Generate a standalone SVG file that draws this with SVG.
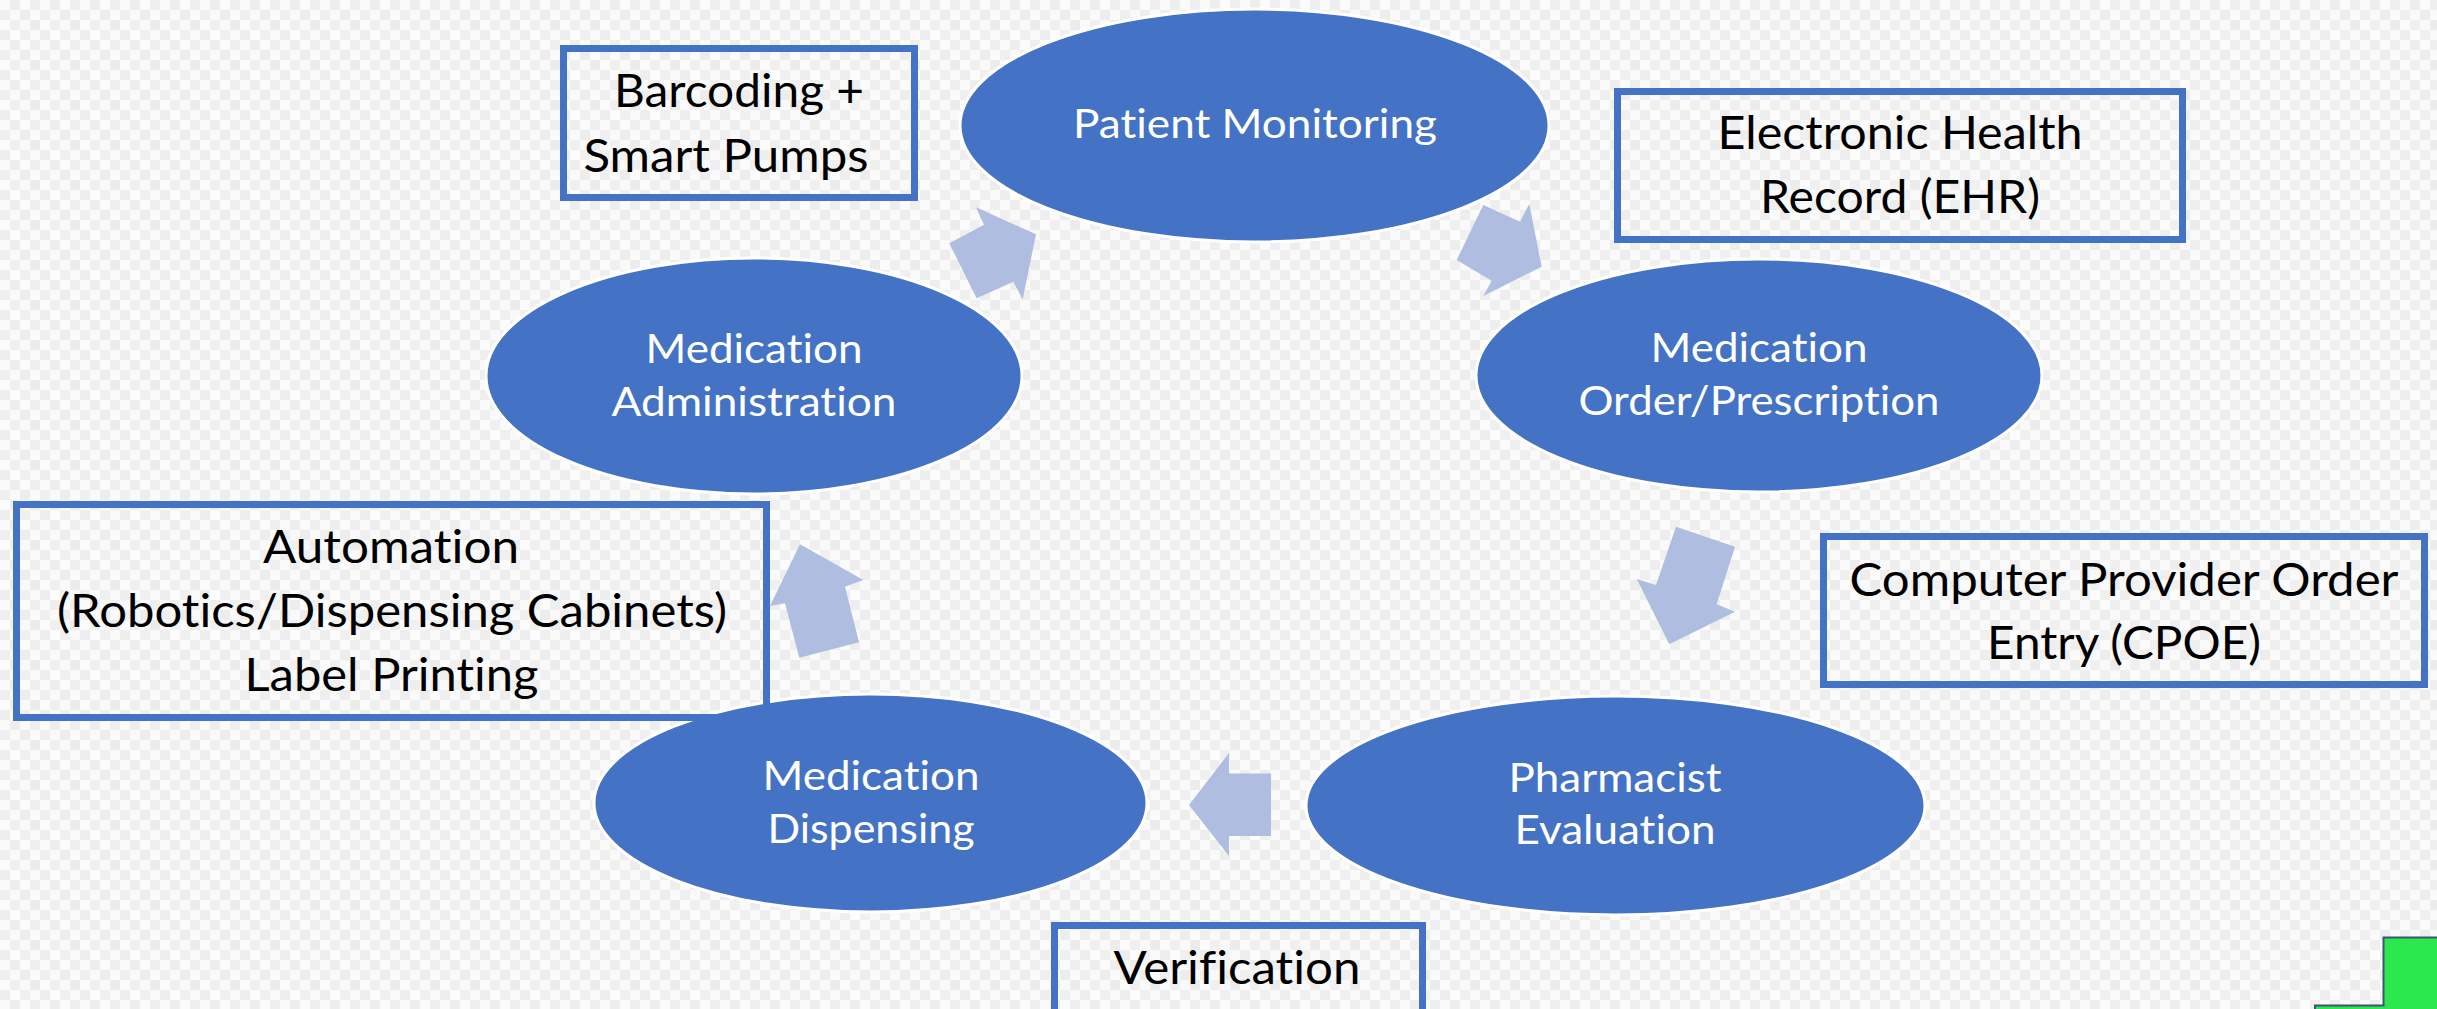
<svg xmlns="http://www.w3.org/2000/svg" width="2437" height="1009" viewBox="0 0 2437 1009">
<defs>
<pattern id="bg" x="0" y="0" width="40" height="40" patternUnits="userSpaceOnUse">
<rect x="0" y="0" width="40" height="40" fill="#f6f6f6"/>
<rect x="0" y="0" width="10" height="10" fill="#fafafa"/><rect x="10" y="0" width="10" height="10" fill="#eeeeee"/><rect x="20" y="0" width="10" height="10" fill="#fbfbfb"/><rect x="30" y="0" width="10" height="10" fill="#efefef"/>
<rect x="0" y="10" width="10" height="10" fill="#efefef"/><rect x="10" y="10" width="10" height="10" fill="#f9f9f9"/><rect x="20" y="10" width="10" height="10" fill="#ededed"/><rect x="30" y="10" width="10" height="10" fill="#fafafa"/>
<rect x="0" y="20" width="10" height="10" fill="#fbfbfb"/><rect x="10" y="20" width="10" height="10" fill="#f0f0f0"/><rect x="20" y="20" width="10" height="10" fill="#f9f9f9"/><rect x="30" y="20" width="10" height="10" fill="#ececec"/>
<rect x="0" y="30" width="10" height="10" fill="#eeeeee"/><rect x="10" y="30" width="10" height="10" fill="#fcfcfc"/><rect x="20" y="30" width="10" height="10" fill="#f0f0f0"/><rect x="30" y="30" width="10" height="10" fill="#f9f9f9"/>
</pattern>
</defs>
<style>
.ell{fill:#4472C4;stroke:#ffffff;stroke-width:3}
.box{fill:none;stroke:#4472C4;stroke-width:7}
.arr{fill:#AFBDE0;stroke:none}
text{font-variant-ligatures:none;font-feature-settings:"liga" 0,"clig" 0,"dlig" 0}
.wt{font-family:Lato,"Open Sans","Liberation Sans",sans-serif;font-size:41px;fill:#ffffff;text-anchor:middle}
.bt{font-family:Lato,"Open Sans","Liberation Sans",sans-serif;font-size:46px;fill:#000000;text-anchor:middle}
</style>
<rect x="0" y="0" width="2437" height="1009" fill="url(#bg)"/>
<g id="connectors">
<polygon class="arr" points="976,207.3 1036,234.3 1022.7,299.3 1013.3,281.7 976.7,298.3 949.3,243.3 984,224.7"/>
<polygon class="arr" points="1483.3,205 1520,221.7 1529.3,204 1541.7,266.7 1483.3,296 1491.7,280.7 1456.7,260"/>
<polygon class="arr" points="1676,526.7 1735,546.7 1716.7,604.3 1735,611.7 1669.3,644.3 1636.7,579 1656,585"/>
<polygon class="arr" points="1189,805 1229,753 1229,773.5 1271,773.5 1271,836 1229,836 1229,856"/>
<polygon class="arr" points="800,544.3 863.3,580 845,586.7 859,642.3 799.3,657.7 785,603.3 770,606"/>
</g>
<g id="patient-monitoring">
<ellipse class="ell" cx="1254.5" cy="125.5" rx="294.5" ry="116.5"/>
<text class="wt" x="1255" y="138" textLength="364" lengthAdjust="spacingAndGlyphs">Patient Monitoring</text>
</g>
<g id="medication-order">
<ellipse class="ell" cx="1759" cy="375.5" rx="283" ry="116.5"/>
<text class="wt" x="1759" y="362" textLength="217" lengthAdjust="spacingAndGlyphs">Medication</text>
<text class="wt" x="1759" y="415" textLength="361" lengthAdjust="spacingAndGlyphs">Order/Prescription</text>
</g>
<g id="pharmacist-evaluation">
<ellipse class="ell" cx="1615.5" cy="805.5" rx="309.5" ry="109.5"/>
<text class="wt" x="1615" y="792" textLength="213" lengthAdjust="spacingAndGlyphs">Pharmacist</text>
<text class="wt" x="1615" y="844" textLength="201" lengthAdjust="spacingAndGlyphs">Evaluation</text>
</g>
<g id="medication-dispensing">
<ellipse class="ell" cx="870.5" cy="803" rx="276.5" ry="109"/>
<text class="wt" x="871" y="790" textLength="217" lengthAdjust="spacingAndGlyphs">Medication</text>
<text class="wt" x="871" y="843" textLength="207" lengthAdjust="spacingAndGlyphs">Dispensing</text>
</g>
<g id="medication-administration">
<ellipse class="ell" cx="754" cy="376" rx="268" ry="118"/>
<text class="wt" x="754" y="363" textLength="217" lengthAdjust="spacingAndGlyphs">Medication</text>
<text class="wt" x="754" y="416" textLength="285" lengthAdjust="spacingAndGlyphs">Administration</text>
</g>
<g id="barcoding-box">
<rect class="box" x="563.5" y="48.5" width="351" height="149"/>
<text class="bt" x="739" y="107" textLength="250" lengthAdjust="spacingAndGlyphs">Barcoding +</text>
<text class="bt" x="726" y="172" textLength="285" lengthAdjust="spacingAndGlyphs">Smart Pumps</text>
</g>
<g id="ehr-box">
<rect class="box" x="1617.5" y="91.5" width="565" height="148"/>
<text class="bt" x="1900" y="149" textLength="365" lengthAdjust="spacingAndGlyphs">Electronic Health</text>
<text class="bt" x="1900" y="213" textLength="280" lengthAdjust="spacingAndGlyphs">Record (EHR)</text>
</g>
<g id="cpoe-box">
<rect class="box" x="1823.5" y="536.5" width="601" height="148"/>
<text class="bt" x="2124" y="596" textLength="549" lengthAdjust="spacingAndGlyphs">Computer Provider Order</text>
<text class="bt" x="2124" y="659" textLength="274" lengthAdjust="spacingAndGlyphs">Entry (CPOE)</text>
</g>
<g id="automation-box">
<rect class="box" x="16.5" y="504.5" width="750" height="213"/>
<text class="bt" x="391" y="563" textLength="256" lengthAdjust="spacingAndGlyphs">Automation</text>
<text class="bt" x="392" y="627" textLength="670" lengthAdjust="spacingAndGlyphs">(Robotics/Dispensing Cabinets)</text>
<text class="bt" x="391.5" y="691" textLength="294" lengthAdjust="spacingAndGlyphs">Label Printing</text>
</g>
<g id="verification-box">
<rect class="box" x="1054.5" y="925.5" width="368" height="150"/>
<text class="bt" x="1237" y="984" textLength="247" lengthAdjust="spacingAndGlyphs">Verification</text>
</g>
<g id="corner-shape">
<path d="M2315,1010 V1005.5 H2383.5 V937.5 H2438 V1010 Z" fill="#2BE84F" stroke="#3B5573" stroke-width="2"/>
</g>
</svg>
